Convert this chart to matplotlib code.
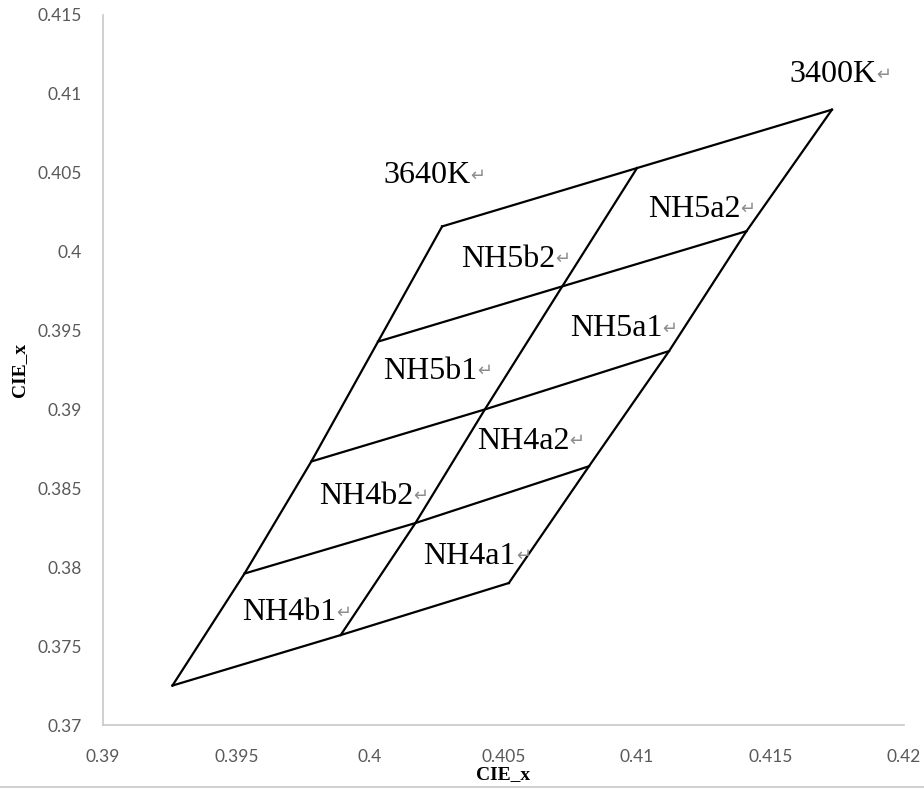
import matplotlib
matplotlib.use('Agg')
import matplotlib.pyplot as plt
from matplotlib.lines import Line2D

# grid nodes, bottom -> top along each edge
left_x = [0.3926, 0.3953, 0.3978, 0.4003, 0.4027]
left_y = [0.3725, 0.3796, 0.3867, 0.3943, 0.4016]
mid_x = [0.3989, 0.4017, 0.4043, 0.4072, 0.4100]
mid_y = [0.3757, 0.3828, 0.3900, 0.3978, 0.4053]
right_x = [0.4052, 0.4082, 0.4112, 0.4141, 0.4173]
right_y = [0.3790, 0.3864, 0.3937, 0.4013, 0.4090]

bin_names = ['3640K', '3400K', 'NH5a2', 'NH5b2', 'NH5a1', 'NH5b1',
             'NH4a2', 'NH4b2', 'NH4a1', 'NH4b1']
bin_x = [0.4005, 0.4157, 0.4104, 0.4034, 0.4075, 0.4005,
         0.4040, 0.3981, 0.4020, 0.3952]
bin_y = [0.4048, 0.4112, 0.4027, 0.3995, 0.3951, 0.3924,
         0.3880, 0.3845, 0.3807, 0.3771]

x_ticks = [0.39, 0.395, 0.4, 0.405, 0.41, 0.415, 0.42]
y_ticks = [0.37, 0.375, 0.38, 0.385, 0.39, 0.395, 0.4, 0.405, 0.41, 0.415]

fig = plt.figure(figsize=(9.24, 7.89), dpi=100)
ax = fig.add_axes([0.1115, 0.0811, 0.8669, 0.8999])

line_kw = dict(color='black', lw=1.6, solid_joinstyle='miter')
# outline
ax.plot(left_x, left_y, **line_kw)
ax.plot(right_x, right_y, **line_kw)
ax.plot(mid_x, mid_y, **line_kw)
# cross lines
for i in range(len(left_x)):
    ax.plot([left_x[i], mid_x[i], right_x[i]], [left_y[i], mid_y[i], right_y[i]], **line_kw)

for name, x, y in zip(bin_names, bin_x, bin_y):
    t = ax.text(x, y, name, fontsize=23, family='Liberation Serif', color='black',
                ha='left', va='center')
    ax.annotate('\u21b5', xy=(1.0, 0.2), xycoords=t, fontsize=13, color='#8c8c8c',
                family='DejaVu Sans', ha='left', va='bottom')

ax.set_xlim(0.39, 0.42)
ax.set_ylim(0.37, 0.415)
ax.set_xticks(x_ticks)
ax.set_yticks(y_ticks)
ax.set_xticklabels([f'{v:g}' for v in x_ticks])
ax.set_yticklabels([f'{v:g}' for v in y_ticks])
ax.tick_params(length=0, labelsize=12.5, labelcolor='#595959')
ax.tick_params(axis='x', pad=17)
ax.tick_params(axis='y', pad=15)
for lab in ax.get_xticklabels() + ax.get_yticklabels():
    lab.set_family('Lato')

for s in ['top', 'right']:
    ax.spines[s].set_visible(False)
for s in ['left', 'bottom']:
    ax.spines[s].set_color('#c8c8c8')
    ax.spines[s].set_linewidth(1.2)

ax.set_xlabel('CIE_x', family='Liberation Serif', fontweight='bold', fontsize=14, labelpad=1)
ax.set_ylabel('CIE_x', family='Liberation Serif', fontweight='bold', fontsize=14, labelpad=7)

# thin border line at the very bottom of the picture
fig.add_artist(Line2D([0, 1], [0.003, 0.003], transform=fig.transFigure, color='#c8c8c8', lw=1.2))

fig.savefig('out.png', dpi=100)
